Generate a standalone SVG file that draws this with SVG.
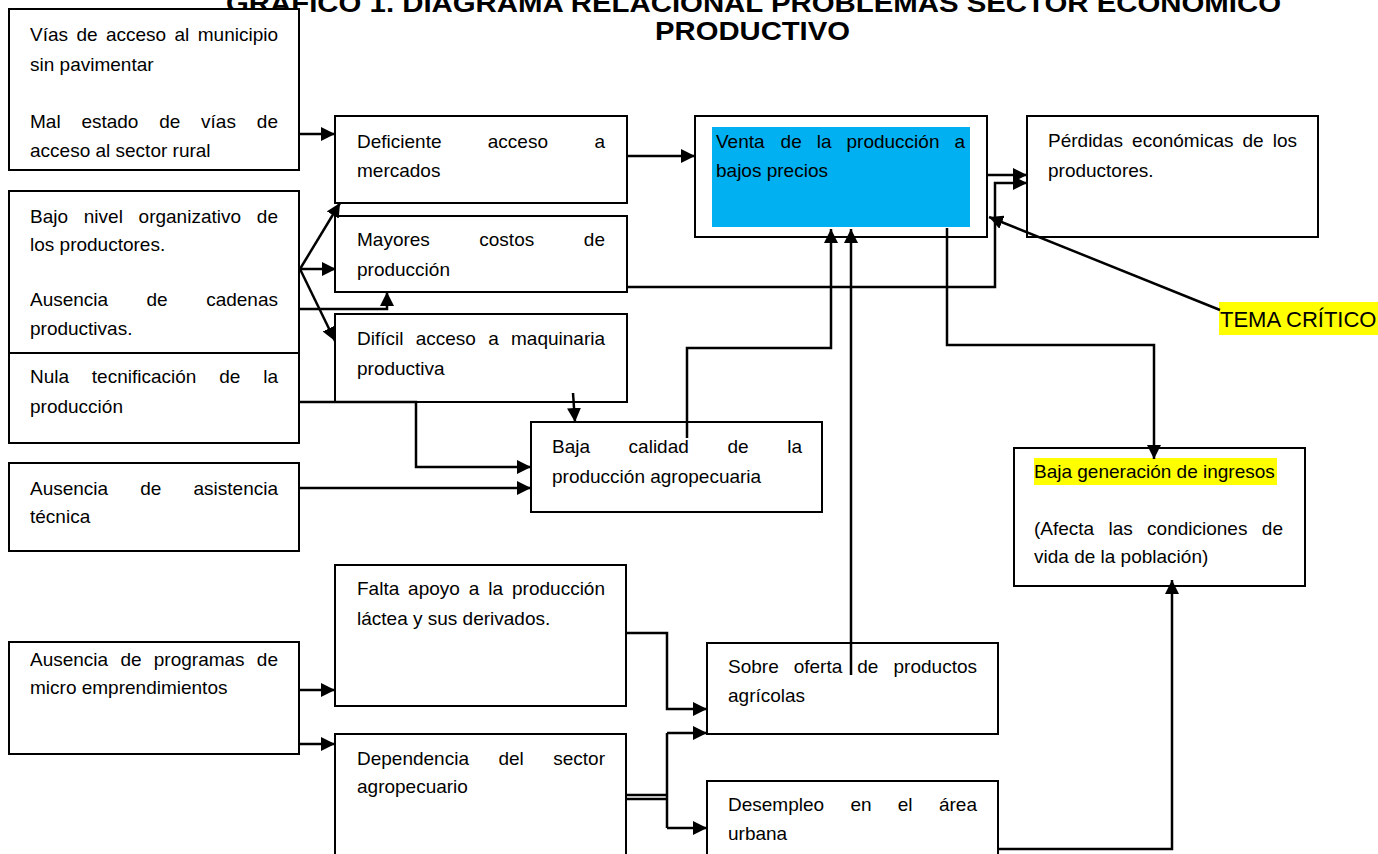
<svg xmlns="http://www.w3.org/2000/svg" width="1378" height="854" viewBox="0 0 1378 854">
<style>
.box{fill:#fff;stroke:#000;stroke-width:2}
.t{font-family:"Liberation Sans",Arial,sans-serif;font-size:19px;fill:#000}
.c{fill:none;stroke:#000;stroke-width:2.5}
.a{marker-end:url(#ah)}
.ttl{font-family:"Liberation Sans",Arial,sans-serif;font-weight:bold;font-size:26px;fill:#000}
</style>
<defs>
<marker id="ah" markerUnits="userSpaceOnUse" markerWidth="15" markerHeight="14" refX="14" refY="7" orient="auto">
<path d="M0,0 L14,7 L0,14 z" fill="#000"/>
</marker>
</defs>
<rect width="1378" height="854" fill="#fff"/>

<g id="title">
<text class="ttl" x="226" y="12" textLength="1055" lengthAdjust="spacingAndGlyphs">GRAFICO 1. DIAGRAMA RELACIONAL PROBLEMAS SECTOR ECONOMICO</text>
<text class="ttl" x="655" y="40" textLength="195" lengthAdjust="spacingAndGlyphs">PRODUCTIVO</text>
</g>

<g id="n-vias">
<rect class="box" x="9" y="9" width="290" height="161"/>
<text class="t" y="41"><tspan x="30">Vías</tspan><tspan x="76.4">de</tspan><tspan x="105.9">acceso</tspan><tspan x="174.5">al</tspan><tspan x="278" text-anchor="end">municipio</tspan></text>
<text class="t" x="30" y="71">sin pavimentar</text>
<text class="t" y="128"><tspan x="30">Mal</tspan><tspan x="81.4">estado</tspan><tspan x="159.2">de</tspan><tspan x="201.1">vías</tspan><tspan x="278" text-anchor="end">de</tspan></text>
<text class="t" x="30" y="157">acceso al sector rural</text>
</g>

<g id="n-bajo-nivel">
<rect class="box" x="9" y="191" width="290" height="162"/>
<text class="t" y="223"><tspan x="30">Bajo</tspan><tspan x="83.8">nivel</tspan><tspan x="138.6">organizativo</tspan><tspan x="278" text-anchor="end">de</tspan></text>
<text class="t" x="30" y="251">los productores.</text>
<text class="t" y="306"><tspan x="30">Ausencia</tspan><tspan x="146.5">de</tspan><tspan x="278" text-anchor="end">cadenas</tspan></text>
<text class="t" x="30" y="335">productivas.</text>
</g>

<g id="n-nula">
<rect class="box" x="9" y="353" width="290" height="90"/>
<text class="t" y="383"><tspan x="30">Nula</tspan><tspan x="91.8">tecnificación</tspan><tspan x="219.2">de</tspan><tspan x="278" text-anchor="end">la</tspan></text>
<text class="t" x="30" y="413">producción</text>
</g>

<g id="n-asistencia">
<rect class="box" x="9" y="463" width="290" height="88"/>
<text class="t" y="495"><tspan x="30">Ausencia</tspan><tspan x="140.2">de</tspan><tspan x="278" text-anchor="end">asistencia</tspan></text>
<text class="t" x="30" y="523">técnica</text>
</g>

<g id="n-programas">
<rect class="box" x="9" y="642" width="290" height="112"/>
<text class="t" y="666"><tspan x="30">Ausencia</tspan><tspan x="120.4">de</tspan><tspan x="153.8">programas</tspan><tspan x="278" text-anchor="end">de</tspan></text>
<text class="t" x="30" y="694">micro emprendimientos</text>
</g>

<g id="n-deficiente">
<rect class="box" x="335" y="116" width="292" height="87"/>
<text class="t" y="148"><tspan x="357">Deficiente</tspan><tspan x="487.8">acceso</tspan><tspan x="605" text-anchor="end">a</tspan></text>
<text class="t" x="357" y="177">mercados</text>
</g>

<g id="n-mayores">
<rect class="box" x="335" y="216" width="292" height="76"/>
<text class="t" y="246"><tspan x="357">Mayores</tspan><tspan x="479.3">costos</tspan><tspan x="605" text-anchor="end">de</tspan></text>
<text class="t" x="357" y="276">producción</text>
</g>

<g id="n-dificil">
<rect class="box" x="335" y="314" width="292" height="88"/>
<text class="t" y="345"><tspan x="357">Difícil</tspan><tspan x="415.7">acceso</tspan><tspan x="488.2">a</tspan><tspan x="605" text-anchor="end">maquinaria</tspan></text>
<text class="t" x="357" y="375">productiva</text>
</g>

<g id="n-baja-calidad">
<rect class="box" x="531" y="422" width="291" height="90"/>
<text class="t" y="453"><tspan x="552">Baja</tspan><tspan x="628.6">calidad</tspan><tspan x="727.4">de</tspan><tspan x="802" text-anchor="end">la</tspan></text>
<text class="t" x="552" y="483">producción agropecuaria</text>
</g>

<g id="n-venta">
<rect class="box" x="695" y="116" width="292" height="121"/>
<rect x="712" y="127" width="258" height="100" fill="#00B0F0"/>
<text class="t" y="148"><tspan x="716">Venta</tspan><tspan x="780.6">de</tspan><tspan x="816.7">la</tspan><tspan x="846.5">producción</tspan><tspan x="965" text-anchor="end">a</tspan></text>
<text class="t" x="716" y="177">bajos precios</text>
</g>

<g id="n-perdidas">
<rect class="box" x="1027" y="116" width="291" height="121"/>
<text class="t" y="147"><tspan x="1048">Pérdidas</tspan><tspan x="1132.1">económicas</tspan><tspan x="1242.5">de</tspan><tspan x="1297" text-anchor="end">los</tspan></text>
<text class="t" x="1048" y="177">productores.</text>
</g>

<g id="n-tema">
<rect x="1219" y="302" width="159" height="33" fill="#FFFF00"/>
<text x="1220" y="327" font-family="Liberation Sans, Arial, sans-serif" font-size="22" fill="#000">TEMA CRÍTICO</text>
</g>

<g id="n-baja-gen">
<rect class="box" x="1014" y="448" width="291" height="138"/>
<rect x="1034" y="458" width="243" height="27" fill="#FFFF00"/>
<text class="t" x="1034" y="478">Baja generación de ingresos</text>
<text class="t" y="535"><tspan x="1034">(Afecta</tspan><tspan x="1108.5">las</tspan><tspan x="1147.1">condiciones</tspan><tspan x="1283" text-anchor="end">de</tspan></text>
<text class="t" x="1034" y="563">vida de la población)</text>
</g>

<g id="n-falta">
<rect class="box" x="335" y="565" width="291" height="141"/>
<text class="t" y="595"><tspan x="357">Falta</tspan><tspan x="408.1">apoyo</tspan><tspan x="468.7">a</tspan><tspan x="488.2">la</tspan><tspan x="605" text-anchor="end">producción</tspan></text>
<text class="t" x="357" y="625">láctea y sus derivados.</text>
</g>

<g id="n-dependencia">
<rect class="box" x="335" y="734" width="291" height="140"/>
<text class="t" y="765"><tspan x="357">Dependencia</tspan><tspan x="498.4">del</tspan><tspan x="605" text-anchor="end">sector</tspan></text>
<text class="t" x="357" y="793">agropecuario</text>
</g>

<g id="n-sobre">
<rect class="box" x="707" y="643" width="291" height="91"/>
<text class="t" y="673"><tspan x="728">Sobre</tspan><tspan x="793.7">oferta</tspan><tspan x="857.3">de</tspan><tspan x="977" text-anchor="end">productos</tspan></text>
<text class="t" x="728" y="702">agrícolas</text>
</g>

<g id="n-desempleo">
<rect class="box" x="707" y="781" width="291" height="93"/>
<text class="t" y="811"><tspan x="728">Desempleo</tspan><tspan x="850.4">en</tspan><tspan x="897.8">el</tspan><tspan x="977" text-anchor="end">área</tspan></text>
<text class="t" x="728" y="840">urbana</text>
</g>

<g id="connectors">
<path class="c a" d="M299,134 H335"/>
<path class="c a" d="M300,269 L340,203"/>
<path class="c a" d="M300,269 H336"/>
<path class="c a" d="M300,269 L335,341"/>
<path class="c a" d="M299,309 H387 V292"/>
<path class="c a" d="M299,402 H416 V467 H531"/>
<path class="c a" d="M299,488 H531"/>
<path class="c a" d="M573,393 L575,422"/>
<path class="c a" d="M687,438 V348 H831 V229"/>
<path class="c a" d="M851,675 V229"/>
<path class="c a" d="M627,156 H695"/>
<path class="c a" d="M987,175 H1027"/>
<path class="c a" d="M627,287 H995 V183 H1027"/>
<path class="c a" d="M1220,310 L989,217"/>
<path class="c a" d="M947,228 V345 H1154 V459"/>
<path class="c a" d="M299,690 H335"/>
<path class="c a" d="M299,744 H335"/>
<path class="c a" d="M626,633 H667 V709 H707"/>
<path class="c" d="M626,795 H667 M626,799 H667 M667,733 V828"/>
<path class="c a" d="M667,733 H707"/>
<path class="c a" d="M667,828 H707"/>
<path class="c a" d="M998,849 H1172 V580"/>
</g>
</svg>
